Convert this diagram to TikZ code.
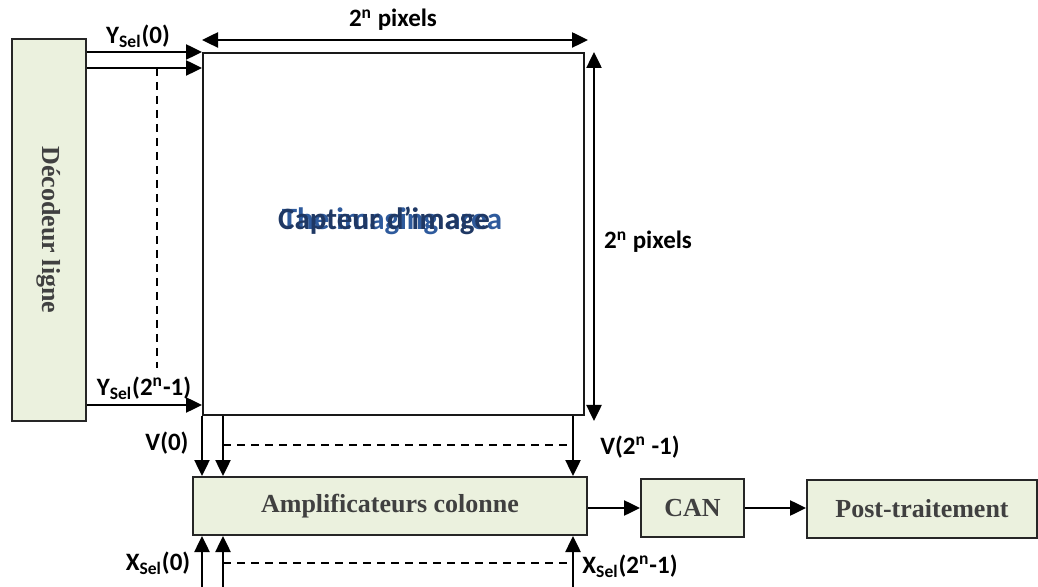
\documentclass[tikz,border=0pt]{standalone}
\usepackage{fontspec}
\setmainfont{Liberation Serif}
\newfontfamily\calib{Carlito}
\usetikzlibrary{arrows.meta}
\definecolor{boxgreen}{HTML}{EBF1DE}
\definecolor{boxtext}{HTML}{404040}
\definecolor{navy}{HTML}{1F3864}
\definecolor{lightnavy}{HTML}{2E5A9C}

\begin{document}
\begin{tikzpicture}[x=0.5pt, y=-0.5pt,
		bloc/.style={draw=black!85, line width=1pt, fill=boxgreen, inner sep=0pt, text=boxtext, font=\fontsize{13}{15}\selectfont\bfseries},
		sig/.style={line width=1.25pt, -{Triangle[length=8pt,width=7.5pt]}},
		dim/.style={line width=1.25pt, {Triangle[length=8pt,width=7.5pt]}-{Triangle[length=8pt,width=7.5pt]}},
		pointille/.style={dash pattern=on 4pt off 3pt, line width=0.6pt},
		lbl/.style={font=\calib\fontsize{12.5}{14}\selectfont\bfseries, inner sep=0pt},
		titre/.style={font=\calib\fontsize{15.5}{18}\selectfont\bfseries, inner sep=0pt, anchor=base}]
		\useasboundingbox (0,0) rectangle (1038,587);

		% blocs
		\node[bloc, rotate=-90, minimum width=191pt, minimum height=37pt] (dec) at (49,230) {Décodeur ligne};
		\node[draw=black!90, line width=1pt, inner sep=0pt, minimum width=190.5pt, minimum height=181pt] (capteur) at (393.5,234) {};
		\node[bloc, minimum width=197pt, minimum height=29pt] (amp) at (390,506) {Amplificateurs colonne};
		\node[bloc, minimum width=51.5pt, minimum height=29pt] (can) at (692.5,508) {CAN};
		\node[bloc, minimum width=115pt, minimum height=29pt] (post) at (922,509) {Post-traitement};

		\node[titre, text=lightnavy] (area) at (392,230) {The imaging area};
		\node[titre, text=navy] (nom) at (384,230) {Capteur d’image};

		% selection des lignes
		\coordinate (ya) at (0,68);
		\coordinate (yb) at (0,405);
		\draw[sig] (dec.north |- capteur.north) -- (capteur.north west);
		\draw[sig] (dec.north |- ya) -- (capteur.west |- ya);
		\draw[sig] (dec.north |- yb) -- (capteur.west |- yb);
		\draw[pointille] (157,68) -- (157,368);

		% colonnes
		\coordinate (c1) at (223,0);
		\coordinate (c3) at (573,0);
		\coordinate (bas) at (0,587);
		\draw[sig] (capteur.south west) -- (capteur.south west |- amp.north);
		\draw[sig] (c1 |- capteur.south) -- (c1 |- amp.north);
		\draw[sig] (c3 |- capteur.south) -- (c3 |- amp.north);
		\draw[pointille] (223,445) -- (573,445);
		\draw[sig] (capteur.south west |- bas) -- (capteur.south west |- amp.south);
		\draw[sig] (c1 |- bas) -- (c1 |- amp.south);
		\draw[sig] (c3 |- bas) -- (c3 |- amp.south);
		\draw[pointille] (223,563) -- (573,563);

		% chaine de sortie
		\draw[sig] (amp.east |- can.west) -- (can.west);
		\draw[sig] (can.east) -- (post.west |- can.east);

		% dimensions
		\coordinate (dtop) at (0,40);
		\coordinate (dright) at (594,0);
		\draw[dim] (capteur.west |- dtop) -- ([xshift=1.5pt]capteur.east |- dtop);
		\draw[dim] (dright |- capteur.north) -- ([yshift=-2.5pt]dright |- capteur.south);

		% etiquettes
		\node[lbl] (lh) at (393,20) {2\textsuperscript{n} pixels};
		\node[lbl] (lv) at (648,242) {2\textsuperscript{n} pixels};
		\node[lbl] (ysa) at (138,36) {Y\textsubscript{Sel}(0)};
		\node[lbl] (ysb) at (144,388) {Y\textsubscript{Sel}(2\textsuperscript{n}-1)};
		\node[lbl] (va) at (167,443) {V(0)};
		\node[lbl] (vb) at (640,447) {V(2\textsuperscript{n} -1)};
		\node[lbl] (xsa) at (158,563) {X\textsubscript{Sel}(0)};
		\node[lbl] (xsb) at (630,566) {X\textsubscript{Sel}(2\textsuperscript{n}-1)};
	\end{tikzpicture}
\end{document}
